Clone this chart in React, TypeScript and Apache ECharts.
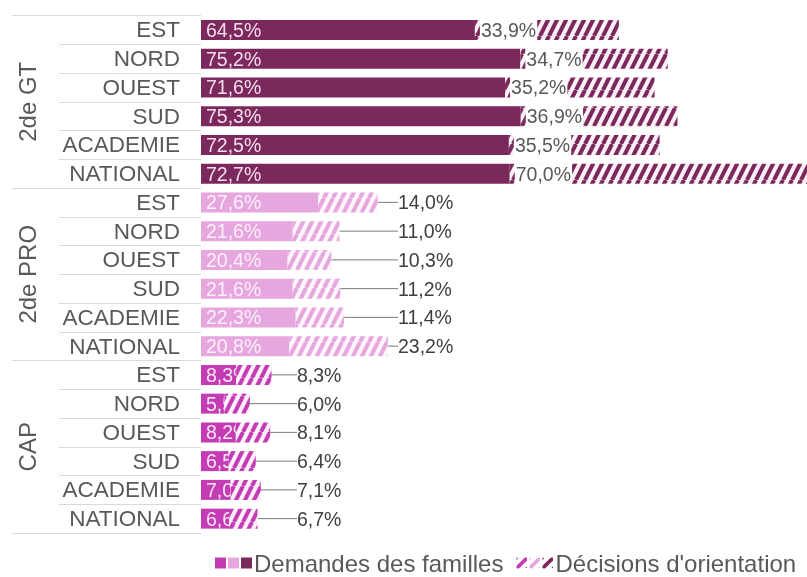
import React, { useEffect, useRef } from "react";
import * as echarts from "echarts";

const groups = ["2de GT", "2de PRO", "CAP"];
const zones = ["EST", "NORD", "OUEST", "SUD", "ACADEMIE", "NATIONAL"];

const gtDemandes = [64.5, 75.2, 71.6, 75.3, 72.5, 72.7];
const gtDecisions = [33.9, 34.7, 35.2, 36.9, 35.5, 70.0];
const proDemandes = [27.6, 21.6, 20.4, 21.6, 22.3, 20.8];
const proDecisions = [14.0, 11.0, 10.3, 11.2, 11.4, 23.2];
const capDemandes = [8.3, 5.5, 8.2, 6.5, 7.0, 6.6];
const capDecisions = [8.3, 6.0, 8.1, 6.4, 7.1, 6.7];

const SOLID_NAME = "Demandes des familles";
const HATCH_NAME = "Décisions d'orientation";

const FONT = "'Liberation Sans', Arial, Helvetica, sans-serif";
const solidColors = ["#7b295c", "#e6a6de", "#c43cb4"];
const solidLabelColors = ["#f4dcec", "#fdf0fb", "#fbe6f7"];
const hatchBg = ["#fcf0f7", "#fef6fc", "#fdf0fb"];

function stripes(fg: string, bg: string, w = 9, h = 18, sw = 4) {
  const svg =
    `<svg xmlns="http://www.w3.org/2000/svg" width="${w}" height="${h}">` +
    `<rect width="${w}" height="${h}" fill="${bg}"/>` +
    `<g stroke="${fg}" stroke-width="${sw}">` +
    `<line x1="0" y1="${h}" x2="${w}" y2="0"/>` +
    `<line x1="${-w}" y1="${h}" x2="0" y2="0"/>` +
    `<line x1="${w}" y1="${h}" x2="${2 * w}" y2="0"/>` +
    `</g></svg>`;
  return "data:image/svg+xml;charset=utf-8," + encodeURIComponent(svg);
}

const fmt = (v: number) => v.toFixed(1).replace(".", ",") + "%";

export default function App() {
  const ref = useRef<HTMLDivElement>(null);

  useEffect(() => {
    if (!ref.current) return;
    const chart = echarts.init(ref.current, undefined, { renderer: "svg" });

    const categories = groups.flatMap(() => zones);
    const demandes = [gtDemandes, proDemandes, capDemandes];
    const decisions = [gtDecisions, proDecisions, capDecisions];

    const solidData: any[] = [];
    const hatchData: any[] = [];
    demandes.forEach((arr, g) => {
      arr.forEach((v) => {
        solidData.push({
          value: v,
          itemStyle: { color: solidColors[g] },
          label: { color: solidLabelColors[g] },
        });
      });
    });
    decisions.forEach((arr, g) => {
      arr.forEach((v) => {
        const pattern = {
          image: stripes(solidColors[g], hatchBg[g]),
          repeat: "repeat",
          imageWidth: 9,
          imageHeight: 18,
        };
        hatchData.push({
          value: v,
          itemStyle: { color: pattern },
          label:
            g === 0
              ? {
                  position: "insideLeft",
                  distance: 5,
                  color: "#595959",
                  backgroundColor: "#ffffff",
                  padding: [1, 1, 0, 1],
                }
              : { position: "right", color: "#404040" },
          labelLine: { show: g !== 0 },
        });
      });
    });

    const legendRich: any = {
      g: { width: 2, height: 11 },
      t: {
        fontSize: 24,
        lineHeight: 24,
        color: "#595959",
        fontFamily: FONT,
        padding: [0, 0, 0, 2],
      },
    };
    const order = [2, 1, 0];
    order.forEach((g, k) => {
      legendRich["s" + k] = { width: 11, height: 11, backgroundColor: solidColors[g] };
      legendRich["h" + k] = {
        width: 11,
        height: 11,
        backgroundColor: { image: stripes(solidColors[g], "#ffffff", 6, 11, 2.5) },
      };
    });

    chart.setOption({
      animation: false,
      textStyle: { fontFamily: FONT },
      grid: { left: 201, right: 0, top: 15.5, bottom: 44, containLabel: false },
      xAxis: { type: "value", min: 0, max: 142.7, show: false },
      yAxis: [
        {
          type: "category",
          data: categories,
          inverse: true,
          axisLine: { show: false },
          axisTick: { show: true, length: 142, interval: 0, lineStyle: { color: "#d9d9d9" } },
          axisLabel: {
            interval: 0,
            margin: 21,
            fontSize: 22.5,
            color: "#595959",
            fontFamily: FONT,
          },
          splitLine: { show: false },
        },
        {
          type: "category",
          data: groups,
          inverse: true,
          position: "left",
          axisLine: { show: false },
          axisTick: { show: true, length: 189, interval: 0, lineStyle: { color: "#d9d9d9" } },
          axisLabel: {
            interval: 0,
            rotate: 90,
            margin: 162,
            fontSize: 24,
            color: "#595959",
            fontFamily: FONT,
          },
          splitLine: { show: false },
        },
      ],
      legend: {
        data: [SOLID_NAME, HATCH_NAME],
        left: 210,
        top: 551,
        padding: 0,
        itemWidth: 0,
        itemHeight: 0,
        itemGap: 8,
        textStyle: {
          fontSize: 24,
          lineHeight: 24,
          color: "#595959",
          fontFamily: FONT,
          rich: legendRich,
        },
        formatter: (name: string) =>
          name === SOLID_NAME
            ? `{s0| }{g| }{s1| }{g| }{s2| }{t|${name}}`
            : `{h0| }{g| }{h1| }{g| }{h2| }{t|${name}}`,
      },
      series: [
        {
          name: SOLID_NAME,
          type: "bar",
          stack: "total",
          yAxisIndex: 0,
          barWidth: 20,
          z: 2,
          itemStyle: { color: solidColors[0] },
          label: {
            show: true,
            position: "insideLeft",
            distance: 5,
            fontSize: 19.5,
            fontFamily: FONT,
            formatter: (p: any) => fmt(p.value),
          },
          data: solidData,
        },
        {
          name: HATCH_NAME,
          type: "bar",
          stack: "total",
          yAxisIndex: 0,
          barWidth: 20,
          z: 3,
          itemStyle: { color: solidColors[0] },
          label: {
            show: true,
            fontSize: 19.5,
            fontFamily: FONT,
            formatter: (p: any) => fmt(p.value),
          },
          labelLine: { show: true, lineStyle: { color: "#7a7a7a", width: 1 } },
          labelLayout: (p: any) => {
            if (p.dataIndex < 6) return {};
            const y = p.rect.y + p.rect.height / 2;
            if (p.dataIndex < 12) return { x: 398, y, align: "left", verticalAlign: "middle" };
            return { x: 297, y, align: "left", verticalAlign: "middle" };
          },
          data: hatchData,
        },
      ],
    });

    return () => chart.dispose();
  }, []);

  return (
    <div
      ref={ref}
      style={{ position: "fixed", left: 0, top: 0, width: 807, height: 577 }}
    />
  );
}
